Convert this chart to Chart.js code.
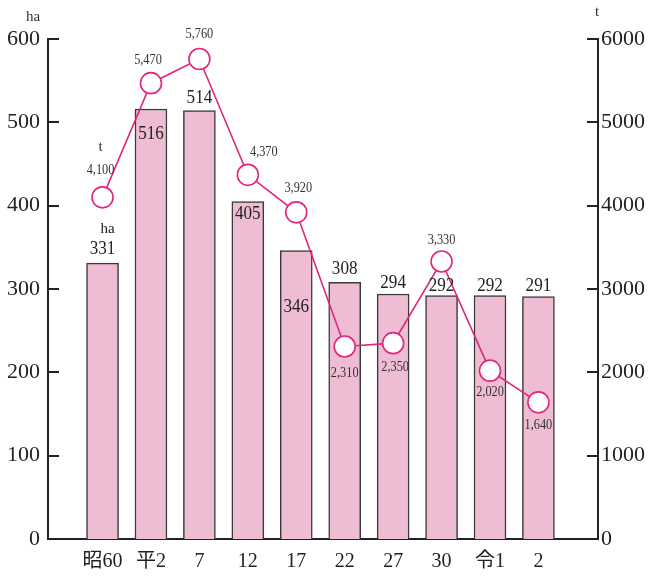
<!DOCTYPE html>
<html><head><meta charset="utf-8">
<script src="https://cdn.jsdelivr.net/npm/chart.js@4/dist/chart.umd.min.js"></script>
<style>html,body{margin:0;padding:0;background:#fff}#wrap{width:650px;height:577px}</style>
</head><body><div id="wrap"><canvas id="c"></canvas></div>
<script>
const categories = ['昭60','平2','7','12','17','22','27','30','令1','2'];
const areaHa = [331, 516, 514, 405, 346, 308, 294, 292, 292, 291];
const tonnage = [4100, 5470, 5760, 4370, 3920, 2310, 2350, 3330, 2020, 1640];
const leftTicks = [0,100,200,300,400,500,600];
const rightTicks = [0,1000,2000,3000,4000,5000,6000];

// label placement (px offsets from the mark)
const barLabelDy = [-14, 25, -13, 13, 56, -13, -11, -10, -10, -10];
const lineLabelD = [[-2,-27],[-3,-23],[0,-25],[16,-23],[2,-24],[0,27],[2,24],[0,-21],[0,21],[0,23]];

const SERIF = '"Liberation Serif","Times New Roman","Noto Sans CJK JP",serif';
const LINE = '#E0267E';

const deco = {
  id:'deco',
  afterDatasetsDraw(chart){
    const ctx = chart.ctx;
    const ys = chart.scales.y, yr = chart.scales.y1, ca = chart.chartArea;
    ctx.save();
    ctx.strokeStyle = '#222'; ctx.lineWidth = 2;
    leftTicks.forEach(v=>{const p=Math.round(ys.getPixelForValue(v));ctx.beginPath();ctx.moveTo(ca.left,p);ctx.lineTo(ca.left+11,p);ctx.stroke();});
    rightTicks.forEach(v=>{const p=Math.round(yr.getPixelForValue(v));ctx.beginPath();ctx.moveTo(ca.right-11,p);ctx.lineTo(ca.right,p);ctx.stroke();});
    // bar labels
    const bm = chart.getDatasetMeta(1);
    ctx.fillStyle = '#222'; ctx.textAlign='center'; ctx.textBaseline='middle';
    bm.data.forEach((el,i)=>{
      ctx.save(); ctx.translate(el.x, el.y + barLabelDy[i]); ctx.scale(0.9,1);
      ctx.font = '19px '+SERIF; ctx.fillText(String(areaHa[i]),0,0); ctx.restore();
    });
    const b0 = bm.data[0];
    ctx.save(); ctx.translate(b0.x+5, b0.y+barLabelDy[0]-20); ctx.font='15px '+SERIF; ctx.fillText('ha',0,0); ctx.restore();
    // line labels
    const lm = chart.getDatasetMeta(0);
    ctx.fillStyle = '#333';
    lm.data.forEach((el,i)=>{
      ctx.save(); ctx.translate(el.x+lineLabelD[i][0], el.y+lineLabelD[i][1]); ctx.scale(0.82,1);
      ctx.font = '15px '+SERIF; ctx.fillText(tonnage[i].toLocaleString('en-US'),0,0); ctx.restore();
    });
    const l0 = lm.data[0];
    ctx.save(); ctx.font='15px '+SERIF; ctx.fillText('t', l0.x-2, l0.y+lineLabelD[0][1]-23); ctx.restore();
    // unit labels
    ctx.font='15px '+SERIF;
    ctx.fillText('ha', 33, 17);
    ctx.fillText('t', 597, 12);
    ctx.restore();
  }
};

new Chart(document.getElementById('c'), {
  data: {
    datasets: [
      { type:'line', yAxisID:'y1', order:0,
        data: tonnage.map((v,i)=>({x:i,y:v})),
        borderColor: LINE, borderWidth: 1.6, pointRadius: 10.5, pointBackgroundColor:'#fff',
        pointBorderColor: LINE, pointBorderWidth: 1.6, tension: 0 },
      { type:'bar', yAxisID:'y', order:1,
        data: areaHa.map((v,i)=>({x:i,y:v})),
        backgroundColor:'#EEBDD4', borderColor:'#3a3a3a',
        borderWidth:{top:1.5,left:1.5,right:1.5,bottom:0}, borderSkipped:'bottom',
        barThickness: 32 }
    ]
  },
  options: {
    responsive:true, maintainAspectRatio:false, animation:false,
    layout:{padding:{top:39,left:0,right:0,bottom:0}},
    plugins:{legend:{display:false}, tooltip:{enabled:false}},
    scales:{
      x:{ type:'linear', min:-1.126, max:10.23, offset:false,
          afterBuildTicks(s){ s.ticks = categories.map((c,i)=>({value:i})); },
          afterFit(s){ s.height = 38; },
          grid:{display:false, drawTicks:false, tickLength:0},
          border:{display:true, color:'#222', width:2},
          ticks:{ autoSkip:false, maxRotation:0, padding:11, color:'#222',
            font:{family:SERIF, size:20},
            callback:(v)=> categories[v] ?? '' } },
      y:{ type:'linear', position:'left', min:0, max:600,
          afterBuildTicks(s){ s.ticks = leftTicks.map(v=>({value:v})); },
          afterFit(s){ s.width = 48; },
          grid:{display:false, drawTicks:false, tickLength:0},
          border:{display:true, color:'#222', width:2},
          ticks:{ padding:8, color:'#222', font:{family:SERIF, size:22}, callback:(v)=>String(v) } },
      y1:{ type:'linear', position:'right', min:0, max:6000,
          afterBuildTicks(s){ s.ticks = rightTicks.map(v=>({value:v})); },
          afterFit(s){ s.width = 52; },
          grid:{display:false, drawTicks:false, tickLength:0},
          border:{display:true, color:'#222', width:2},
          ticks:{ padding:3, color:'#222', font:{family:SERIF, size:22}, callback:(v)=>String(v) } }
    }
  },
  plugins:[deco]
});
</script></body></html>
